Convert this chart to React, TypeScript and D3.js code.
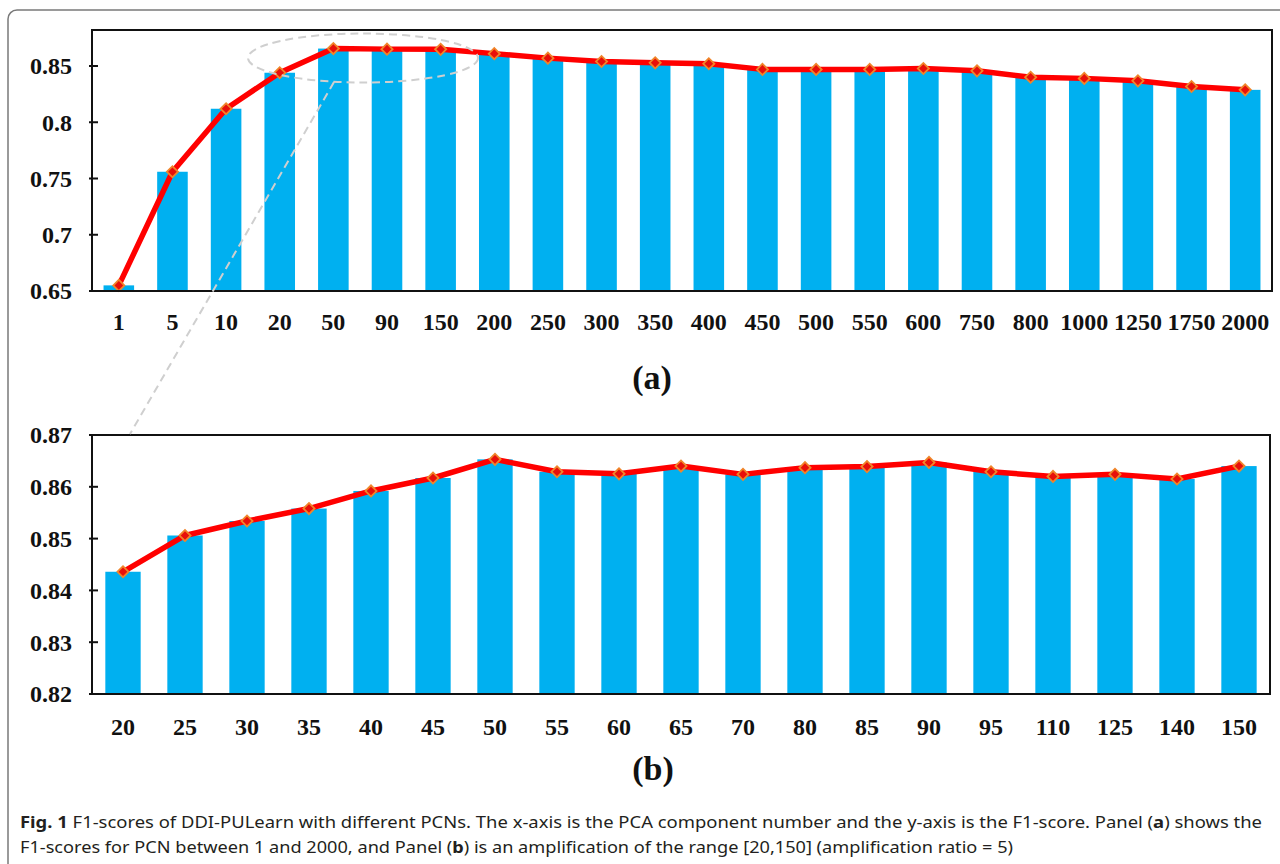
import React from "react";
import * as d3 from "d3";

// panel (a): PCN from 1 to 2000
const catsA = ["1", "5", "10", "20", "50", "90", "150", "200", "250", "300", "350", "400", "450", "500", "550", "600", "750", "800", "1000", "1250", "1750", "2000"];
const f1A = [0.655, 0.756, 0.812, 0.844, 0.8655, 0.865, 0.8648, 0.861, 0.857, 0.854, 0.8528, 0.852, 0.847, 0.847, 0.847, 0.8478, 0.8457, 0.840, 0.839, 0.8368, 0.8318, 0.8288];
const ticksA = [0.65, 0.7, 0.75, 0.8, 0.85];

// panel (b): zoom on PCN 20..150
const catsB = ["20", "25", "30", "35", "40", "45", "50", "55", "60", "65", "70", "80", "85", "90", "95", "110", "125", "140", "150"];
const f1B = [0.8436, 0.8506, 0.8534, 0.8558, 0.8592, 0.8617, 0.8653, 0.8629, 0.8625, 0.864, 0.8624, 0.8637, 0.8639, 0.8647, 0.8629, 0.862, 0.8624, 0.8615, 0.864];
const ticksB = [0.82, 0.83, 0.84, 0.85, 0.86, 0.87];

const BAR = "#00B0F0";
const LINE = "#FF0000";
const serif = "'Liberation Serif', 'Times New Roman', serif";

type PanelProps = {
  cats: string[];
  values: number[];
  ticks: number[];
  domain: [number, number];
  box: { left: number; right: number; top: number; bottom: number };
  labelY: number;
  fmt: (d: number) => string;
};

function Panel({ cats, values, ticks, domain, box, labelY, fmt }: PanelProps) {
  const x = d3
    .scaleBand<string>()
    .domain(cats)
    .range([box.left, box.right])
    .paddingInner(0.43)
    .paddingOuter(0.215);
  const y = d3.scaleLinear().domain(domain).range([box.bottom, box.top]);

  const line = d3
    .line<number>()
    .x((_, i) => x(cats[i])! + x.bandwidth() / 2)
    .y((d) => y(d));

  // square turned 45 degrees, like the excel diamond marker
  const marker = d3.symbol(d3.symbolSquare, 62)()!;

  return (
    <g>
      {values.map((v, i) => (
        <rect
          key={cats[i]}
          x={x(cats[i])}
          y={y(v)}
          width={x.bandwidth()}
          height={box.bottom - y(v)}
          fill={BAR}
        />
      ))}
      <path d={line(values)!} fill="none" stroke={LINE} strokeWidth={5.5} strokeLinejoin="round" />
      {values.map((v, i) => (
        <path
          key={"m" + cats[i]}
          d={marker}
          transform={`translate(${x(cats[i])! + x.bandwidth() / 2},${y(v)}) rotate(45)`}
          fill="#E8100A"
          stroke="#F0852A"
          strokeWidth={1.8}
        />
      ))}
      <rect
        x={box.left}
        y={box.top}
        width={box.right - box.left}
        height={box.bottom - box.top}
        fill="none"
        stroke="#111"
        strokeWidth={2}
      />
      {ticks.map((t) => (
        <g key={t}>
          <line x1={box.left - 3} x2={box.left + 6} y1={y(t)} y2={y(t)} stroke="#111" strokeWidth={2} />
          <text
            x={72}
            y={y(t)}
            dy="0.35em"
            textAnchor="end"
            fontFamily={serif}
            fontWeight="bold"
            fontSize={24}
            fill="#111"
          >
            {fmt(t)}
          </text>
        </g>
      ))}
      {cats.map((c) => (
        <text
          key={"l" + c}
          x={x(c)! + x.bandwidth() / 2}
          y={labelY}
          textAnchor="middle"
          fontFamily={serif}
          fontWeight="bold"
          fontSize={24}
          fill="#111"
        >
          {c}
        </text>
      ))}
    </g>
  );
}

export default function App() {
  const fmtA = (d: number) => String(+d.toFixed(2));
  const fmtB = d3.format(".2f");
  const caption = "'Myriad Pro', 'Noto Sans', 'Open Sans', sans-serif";

  return (
    <svg
      width={1280}
      height={864}
      style={{ position: "absolute", left: 0, top: 0, background: "#fff" }}
    >
      <rect x={8} y={10} width={1300} height={900} rx={9} fill="#fff" stroke="#7a7a7a" strokeWidth={1.5} />

      <Panel
        cats={catsA}
        values={f1A}
        ticks={ticksA}
        domain={[0.65, 0.882]}
        box={{ left: 92, right: 1272, top: 30, bottom: 291 }}
        labelY={330}
        fmt={fmtA}
      />
      <text x={652} y={389} textAnchor="middle" fontFamily={serif} fontWeight="bold" fontSize={34} fill="#111">
        (a)
      </text>

      <Panel
        cats={catsB}
        values={f1B}
        ticks={ticksB}
        domain={[0.82, 0.87]}
        box={{ left: 92, right: 1270, top: 435, bottom: 694 }}
        labelY={735}
        fmt={fmtB}
      />
      <text x={653} y={780} textAnchor="middle" fontFamily={serif} fontWeight="bold" fontSize={34} fill="#111">
        (b)
      </text>

      {/* zoom hint: ellipse around 20..150 and a connector down to panel (b) */}
      <ellipse cx={363} cy={58} rx={115} ry={24.5} fill="none" stroke="#cfcfcf" strokeWidth={2} strokeDasharray="8 5" />
      <line x1={334} y1={82} x2={130} y2={434} stroke="#cfcfcf" strokeWidth={2} strokeDasharray="8 5" />

      <text x={20} y={828} fontFamily={caption} fontSize={16.5} fill="#231f20" textLength={1242} lengthAdjust="spacingAndGlyphs">
        <tspan fontWeight="bold">Fig. 1</tspan> F1-scores of DDI-PULearn with different PCNs. The x-axis is the PCA component number and the y-axis is the F1-score. Panel (<tspan fontWeight="bold">a</tspan>) shows the
      </text>
      <text x={20} y={853} fontFamily={caption} fontSize={16.5} fill="#231f20" textLength={993} lengthAdjust="spacingAndGlyphs">
        F1-scores for PCN between 1 and 2000, and Panel (<tspan fontWeight="bold">b</tspan>) is an amplification of the range [20,150] (amplification ratio = 5)
      </text>
    </svg>
  );
}
